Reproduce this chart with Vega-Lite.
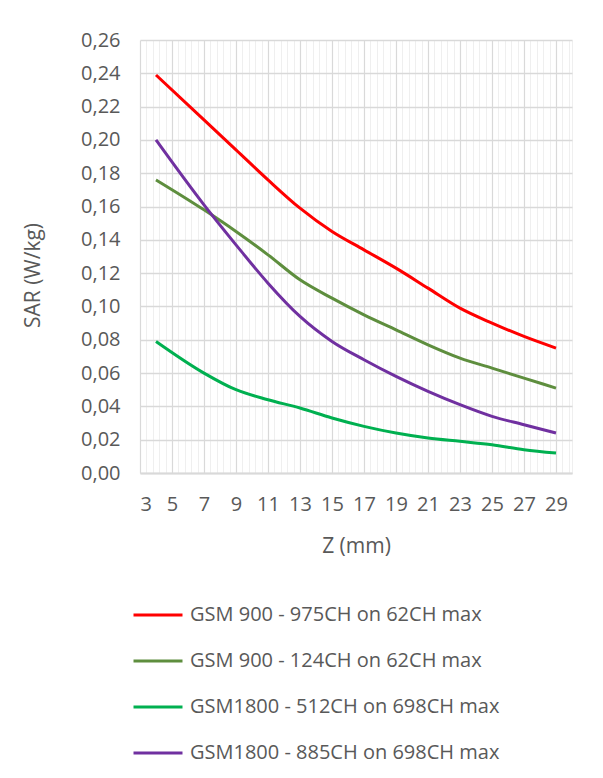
{
  "$schema": "https://vega.github.io/schema/vega-lite/v6.json",
  "width": 432,
  "height": 433,
  "autosize": {"type": "none"},
  "padding": {"left": 140, "top": 40, "right": 31, "bottom": 305},
  "background": "white",
  "config": {
    "view": {"stroke": null},
    "font": "Open Sans",
    "axis": {"labelFont": "Open Sans", "titleFont": "Open Sans", "labelColor": "#595959", "titleColor": "#595959", "labelFontSize": 20, "titleFontSize": 21, "titleFontWeight": "normal"},
    "legend": {"labelFont": "Open Sans", "labelFontSize": 20, "labelColor": "#595959"}
  },
  "data": {"values": [
    {"z": 4, "v": 0.239, "s": "GSM 900 - 975CH on 62CH max"},
    {"z": 7, "v": 0.212, "s": "GSM 900 - 975CH on 62CH max"},
    {"z": 9, "v": 0.194, "s": "GSM 900 - 975CH on 62CH max"},
    {"z": 11, "v": 0.176, "s": "GSM 900 - 975CH on 62CH max"},
    {"z": 13, "v": 0.159, "s": "GSM 900 - 975CH on 62CH max"},
    {"z": 15, "v": 0.145, "s": "GSM 900 - 975CH on 62CH max"},
    {"z": 17, "v": 0.134, "s": "GSM 900 - 975CH on 62CH max"},
    {"z": 19, "v": 0.123, "s": "GSM 900 - 975CH on 62CH max"},
    {"z": 21, "v": 0.111, "s": "GSM 900 - 975CH on 62CH max"},
    {"z": 23, "v": 0.099, "s": "GSM 900 - 975CH on 62CH max"},
    {"z": 25, "v": 0.090, "s": "GSM 900 - 975CH on 62CH max"},
    {"z": 27, "v": 0.082, "s": "GSM 900 - 975CH on 62CH max"},
    {"z": 29, "v": 0.075, "s": "GSM 900 - 975CH on 62CH max"},
    {"z": 4, "v": 0.176, "s": "GSM 900 - 124CH on 62CH max"},
    {"z": 7, "v": 0.158, "s": "GSM 900 - 124CH on 62CH max"},
    {"z": 9, "v": 0.145, "s": "GSM 900 - 124CH on 62CH max"},
    {"z": 11, "v": 0.131, "s": "GSM 900 - 124CH on 62CH max"},
    {"z": 13, "v": 0.116, "s": "GSM 900 - 124CH on 62CH max"},
    {"z": 15, "v": 0.105, "s": "GSM 900 - 124CH on 62CH max"},
    {"z": 17, "v": 0.095, "s": "GSM 900 - 124CH on 62CH max"},
    {"z": 19, "v": 0.086, "s": "GSM 900 - 124CH on 62CH max"},
    {"z": 21, "v": 0.077, "s": "GSM 900 - 124CH on 62CH max"},
    {"z": 23, "v": 0.069, "s": "GSM 900 - 124CH on 62CH max"},
    {"z": 25, "v": 0.063, "s": "GSM 900 - 124CH on 62CH max"},
    {"z": 27, "v": 0.057, "s": "GSM 900 - 124CH on 62CH max"},
    {"z": 29, "v": 0.051, "s": "GSM 900 - 124CH on 62CH max"},
    {"z": 4, "v": 0.079, "s": "GSM1800 - 512CH on 698CH max"},
    {"z": 7, "v": 0.060, "s": "GSM1800 - 512CH on 698CH max"},
    {"z": 9, "v": 0.050, "s": "GSM1800 - 512CH on 698CH max"},
    {"z": 11, "v": 0.044, "s": "GSM1800 - 512CH on 698CH max"},
    {"z": 13, "v": 0.039, "s": "GSM1800 - 512CH on 698CH max"},
    {"z": 15, "v": 0.033, "s": "GSM1800 - 512CH on 698CH max"},
    {"z": 17, "v": 0.028, "s": "GSM1800 - 512CH on 698CH max"},
    {"z": 19, "v": 0.024, "s": "GSM1800 - 512CH on 698CH max"},
    {"z": 21, "v": 0.021, "s": "GSM1800 - 512CH on 698CH max"},
    {"z": 23, "v": 0.019, "s": "GSM1800 - 512CH on 698CH max"},
    {"z": 25, "v": 0.017, "s": "GSM1800 - 512CH on 698CH max"},
    {"z": 27, "v": 0.014, "s": "GSM1800 - 512CH on 698CH max"},
    {"z": 29, "v": 0.012, "s": "GSM1800 - 512CH on 698CH max"},
    {"z": 4, "v": 0.200, "s": "GSM1800 - 885CH on 698CH max"},
    {"z": 7, "v": 0.161, "s": "GSM1800 - 885CH on 698CH max"},
    {"z": 9, "v": 0.137, "s": "GSM1800 - 885CH on 698CH max"},
    {"z": 11, "v": 0.114, "s": "GSM1800 - 885CH on 698CH max"},
    {"z": 13, "v": 0.094, "s": "GSM1800 - 885CH on 698CH max"},
    {"z": 15, "v": 0.079, "s": "GSM1800 - 885CH on 698CH max"},
    {"z": 17, "v": 0.068, "s": "GSM1800 - 885CH on 698CH max"},
    {"z": 19, "v": 0.058, "s": "GSM1800 - 885CH on 698CH max"},
    {"z": 21, "v": 0.049, "s": "GSM1800 - 885CH on 698CH max"},
    {"z": 23, "v": 0.041, "s": "GSM1800 - 885CH on 698CH max"},
    {"z": 25, "v": 0.034, "s": "GSM1800 - 885CH on 698CH max"},
    {"z": 27, "v": 0.029, "s": "GSM1800 - 885CH on 698CH max"},
    {"z": 29, "v": 0.024, "s": "GSM1800 - 885CH on 698CH max"}
  ]},
  "encoding": {
    "y": {
      "field": "v", "type": "quantitative",
      "scale": {"domain": [0, 0.26], "nice": false, "zero": true},
      "axis": {
        "title": "SAR (W/kg)",
        "values": [0, 0.02, 0.04, 0.06, 0.08, 0.1, 0.12, 0.14, 0.16, 0.18, 0.2, 0.22, 0.24, 0.26],
        "labelExpr": "replace(format(datum.value, '.2f'), '.', ',')",
        "domain": false, "ticks": false, "tickSize": 0, "labelPadding": 20,
        "grid": true, "gridColor": "#d9d9d9", "gridWidth": 1.5,
        "titleX": -107, "titleY": 235, "titleAngle": -90, "titleAlign": "center", "titleBaseline": "middle"
      }
    }
  },
  "layer": [
    {
      "mark": {"type": "point", "opacity": 0},
      "encoding": {
        "x": {
          "field": "z", "type": "quantitative",
          "scale": {"domain": [3, 30], "nice": false, "zero": false},
          "axis": {
            "orient": "top", "title": null, "labels": false, "ticks": false, "domain": false,
            "grid": true, "gridColor": "#efefef", "gridWidth": 1,
            "values": [3.4,3.8,4.2,4.6,5.4,5.8,6.2,6.6,7.4,7.8,8.2,8.6,9.4,9.8,10.2,10.6,11.4,11.8,12.2,12.6,13.4,13.8,14.2,14.6,15.4,15.8,16.2,16.6,17.4,17.8,18.2,18.6,19.4,19.8,20.2,20.6,21.4,21.8,22.2,22.6,23.4,23.8,24.2,24.6,25.4,25.8,26.2,26.6,27.4,27.8,28.2,28.6,29.4,29.8,30]
          }
        }
      }
    },
    {
      "mark": {"type": "line", "strokeWidth": 3, "interpolate": "monotone"},
      "encoding": {
        "x": {
          "field": "z", "type": "quantitative",
          "scale": {"domain": [3, 30], "nice": false, "zero": false},
          "axis": {
            "orient": "bottom", "title": "Z (mm)",
            "values": [3,5,7,9,11,13,15,17,19,21,23,25,27,29],
            "ticks": false, "tickSize": 0, "labelPadding": 21,
            "domain": true, "domainColor": "#d9d9d9", "domainWidth": 2,
            "grid": true, "gridColor": "#d9d9d9", "gridWidth": 1.2,
            "titleY": 73, "titleBaseline": "middle"
          }
        },
        "color": {
          "field": "s", "type": "nominal",
          "scale": {
            "domain": ["GSM 900 - 975CH on 62CH max", "GSM 900 - 124CH on 62CH max", "GSM1800 - 512CH on 698CH max", "GSM1800 - 885CH on 698CH max"],
            "range": ["#ff0000", "#5e8e3e", "#00b050", "#7030a0"]
          },
          "legend": {
            "title": null, "orient": "none", "legendX": -8, "legendY": 549,
            "direction": "vertical", "symbolType": "stroke", "symbolStrokeWidth": 3,
            "symbolSize": 2400, "rowPadding": 10, "labelOffset": 6, "padding": 0, "labelLimit": 400
          }
        }
      }
    }
  ],
  "resolve": {"axis": {"x": "independent"}}
}
